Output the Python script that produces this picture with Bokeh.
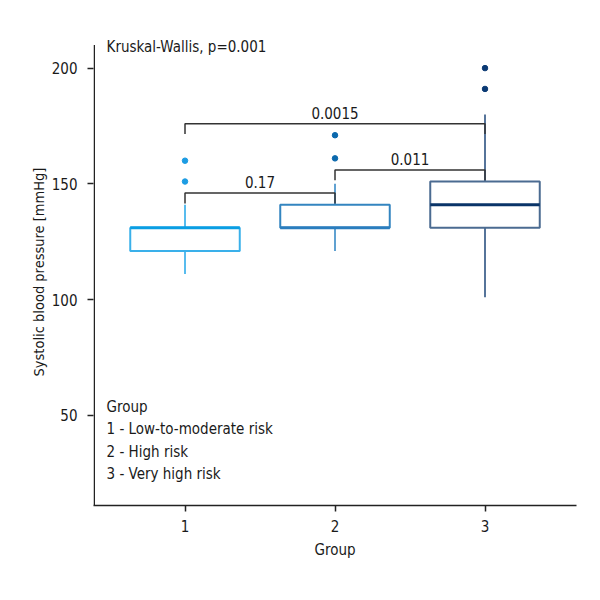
import numpy as np
from bokeh.plotting import figure
from bokeh.models import Range1d, FixedTicker, Title
from bokeh.core.properties import value
from bokeh.embed import file_html
from bokeh.resources import INLINE

groups = [1, 2, 3]
q1 = [121, 131, 131]
median = [131, 131, 141]
q3 = [131, 141, 151]
whisker_low = [111, 121, 101]
whisker_high = [141, 150, 180]
outlier_group = [1, 1, 2, 2, 3, 3]
outlier_value = [151, 160, 161, 171, 191, 200]

pair_left = [1, 2, 1]
pair_right = [2, 3, 3]
pair_height = [146, 156, 176]
pair_label = ["0.17", "0.011", "0.0015"]

title_text = "Kruskal-Wallis, p=0.001"
legend_lines = ["Group", "1 - Low-to-moderate risk", "2 - High risk", "3 - Very high risk"]
y_label = "Systolic blood pressure [mmHg]"
x_label = "Group"
y_ticks = [50, 100, 150, 200]
x_ticks = [1, 2, 3]

box_line = ["#3AB0EA", "#3385C0", "#4B6B91"]
median_col = ["#0A9EE3", "#2A7DBE", "#0A3468"]
whisk_col = ["#21A6E8", "#2B82C2", "#1E4679"]
pt_col = ["#1C9CE3", "#0B69AD", "#0B3A74"]

FONT = "DejaVu Sans Condensed"
FS = "15px"
TXT = "#1a1a1a"
AX = "#222222"

X0, X1 = 0.39, 3.61
Y0, Y1 = 11, 212.8

p = figure(width=592, height=592, output_backend="svg", toolbar_location=None,
           x_range=Range1d(X0, X1), y_range=Range1d(Y0, Y1),
           min_border_left=93, min_border_right=16, min_border_top=38, min_border_bottom=87)
p.outline_line_color = None
p.xgrid.visible = False
p.ygrid.visible = False

for ax in (p.xaxis[0], p.yaxis[0]):
    ax.axis_line_color = AX
    ax.axis_line_width = 1.5
    ax.major_tick_line_color = AX
    ax.major_tick_line_width = 1.5
    ax.major_tick_in = 0
    ax.major_tick_out = 6
    ax.minor_tick_line_color = None
    ax.major_label_text_font = FONT
    ax.major_label_text_font_size = FS
    ax.major_label_text_color = TXT
    ax.axis_label_text_font = FONT
    ax.axis_label_text_font_size = FS
    ax.axis_label_text_font_style = "normal"
    ax.axis_label_text_color = TXT

p.yaxis.axis_line_color = None
p.xaxis.ticker = FixedTicker(ticks=x_ticks)
p.yaxis.ticker = FixedTicker(ticks=y_ticks)
p.xaxis.major_label_standoff = 8
p.yaxis.major_label_standoff = 10
p.xaxis.axis_label = x_label
p.xaxis.axis_label_standoff = 6

# custom y axis line (stops below the text at the top)
p.segment(x0=[X0 + 0.005], y0=[Y0], x1=[X0 + 0.005], y1=[210], line_color=AX, line_width=1.5)

bw = 0.73
# whiskers
p.segment(x0=groups, y0=whisker_low, x1=groups, y1=q1, line_color=whisk_col, line_width=1.5)
p.segment(x0=groups, y0=q3, x1=groups, y1=whisker_high, line_color=whisk_col, line_width=1.5)
# boxes
p.quad(left=[g - bw / 2 for g in groups], right=[g + bw / 2 for g in groups],
       bottom=q1, top=q3, fill_color="white", line_color=box_line, line_width=2)
# medians
p.segment(x0=[g - bw / 2 for g in groups], y0=median, x1=[g + bw / 2 for g in groups], y1=median,
          line_color=median_col, line_width=3)
# outliers
p.scatter(x=outlier_group, y=outlier_value, size=5.5,
          fill_color=[pt_col[g - 1] for g in outlier_group],
          line_color=[pt_col[g - 1] for g in outlier_group])

# brackets
drop = 4.5
for a, b, h, lab in zip(pair_left, pair_right, pair_height, pair_label):
    p.line(x=[a, a, b, b], y=[h - drop, h, h, h - drop], line_color="#333333", line_width=1.5)
    p.text(x=[(a + b) / 2], y=[h + 2], text=[lab], text_align="center", text_baseline="bottom",
           text_font=value(FONT), text_font_size=FS, text_color=TXT)

# title text inside the panel
p.text(x=[0.477], y=[209], text=[title_text], text_align="left", text_baseline="middle",
       text_font=value(FONT), text_font_size=FS, text_color=TXT)

# legend block
for i, line in enumerate(legend_lines):
    p.text(x=[0.477], y=[53.5 - i * 9.6], text=[line], text_align="left", text_baseline="middle",
           text_font=value(FONT), text_font_size=FS, text_color=TXT)

# y axis label as a side title
p.add_layout(Title(text=y_label, align="center", text_font=FONT,
                   text_font_size="14.5px", text_font_style="normal", text_color=TXT,
                   standoff=4), "left")

open("out.html", "w").write(file_html(p, INLINE))
